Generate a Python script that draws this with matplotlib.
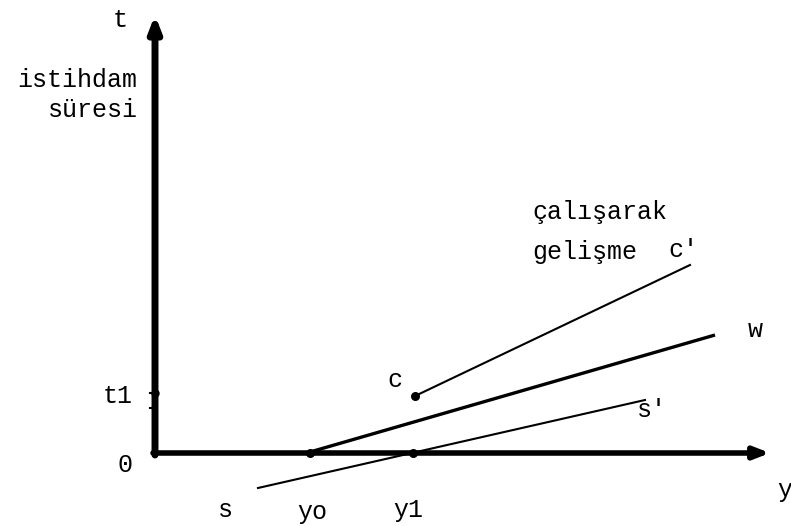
import matplotlib
matplotlib.use('Agg')
import matplotlib.pyplot as plt

plt.rcParams['font.family'] = ['Liberation Mono', 'DejaVu Sans Mono']

# origin of the diagram at (0, 0); units roughly pixels
axis_x_end = 615
axis_y_end = 438

w_line_x = [155, 560]
w_line_y = [1, 118]
c_line_x = [260, 535]
c_line_y = [57, 188]
s_line_x = [103, 490]
s_line_y = [-35, 53]

dots_x = [155, 258, 260]
dots_y = [0, 0, 57]
t1 = 60
t1_tick2 = 45

point_labels = ['c', "c'", 'w', "s'", 's', 'yo', 'y1']
point_label_x = [240, 528, 600, 497, 70, 157, 253]
point_label_y = [73, 203, 123, 43, -57, -59, -57]

fig = plt.figure(figsize=(7.91, 5.26), dpi=100)
ax = fig.add_axes([0, 0, 1, 1])
ax.set_xlim(-155, 636)
ax.set_ylim(-73, 453)
ax.axis('off')

# axes with arrow heads
ax.annotate('', xy=(axis_x_end, 0), xytext=(-2, 0),
            arrowprops=dict(arrowstyle='-|>,head_length=0.9,head_width=0.35', lw=4, color='black', shrinkA=0, shrinkB=0))
ax.annotate('', xy=(0, axis_y_end), xytext=(0, -2),
            arrowprops=dict(arrowstyle='-|>,head_length=0.9,head_width=0.35', lw=5, color='black', shrinkA=0, shrinkB=0))

ax.plot(w_line_x, w_line_y, color='black', lw=2.4, solid_capstyle='butt')
ax.plot(c_line_x, c_line_y, color='black', lw=1.5)
ax.plot(s_line_x, s_line_y, color='black', lw=1.5)
ax.scatter(dots_x, dots_y, s=30, color='black', zorder=3)

# ticks on vertical axis
ax.plot([-5, 3], [t1, t1], color='black', lw=1.5)
ax.scatter([0], [t1], s=25, color='black', zorder=3)
ax.plot([-5, 0], [t1_tick2, t1_tick2], color='black', lw=1.5)

fs = 18
ax.text(-35, 433, 't', fontsize=fs, ha='center', va='center')
ax.text(-78, 373, 'istihdam', fontsize=fs, ha='center', va='center')
ax.text(-17, 343, 'süresi', fontsize=fs, ha='right', va='center')
ax.text(-37, 57, 't1', fontsize=fs, ha='center', va='center')
ax.text(-30, -12, '0', fontsize=fs, ha='center', va='center')
ax.text(630, -37, 'y', fontsize=fs, ha='center', va='center')
ax.text(377, 241, 'çalışarak', fontsize=fs, ha='left', va='center')
ax.text(377, 201, 'gelişme', fontsize=fs, ha='left', va='center')

for lab, x, y in zip(point_labels, point_label_x, point_label_y):
    ax.text(x, y, lab, fontsize=fs, ha='center', va='center')

fig.savefig('out.png', dpi=100)
